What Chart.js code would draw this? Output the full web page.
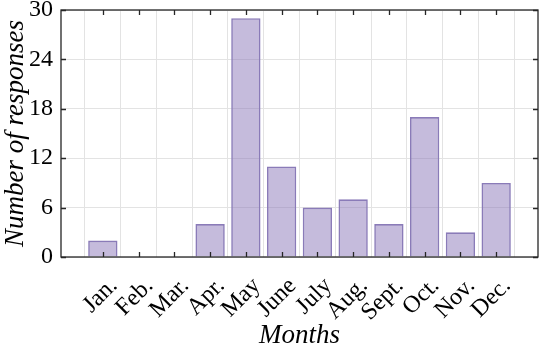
<!DOCTYPE html>
<html><head><meta charset="utf-8">
<script src="https://cdn.jsdelivr.net/npm/chart.js@4/dist/chart.umd.min.js"></script>
<style>html,body{margin:0;padding:0;background:#fff}#wrap{width:540px;height:347px}</style>
</head><body><div id="wrap"><canvas id="c" width="540" height="347"></canvas></div>
<script>
const months = ["Jan.","Feb.","Mar.","Apr.","May","June","July","Aug.","Sept.","Oct.","Nov.","Dec."];
const responses = [2,0,0,4,29,11,6,7,4,17,3,9];
const yTicks = [0,6,12,18,24,30];

const FONT = '"Liberation Serif", "Times New Roman", Times, serif';
const AXIS = '#262626';

const boxPlugin = {
  id:'box',
  afterDraw(chart){
    const {ctx, chartArea:a, scales:{x,y}} = chart;
    ctx.save();
    ctx.strokeStyle = AXIS; ctx.lineWidth = 1.3;
    ctx.strokeRect(a.left, a.top, a.right-a.left, a.bottom-a.top);
    const L = 5;
    ctx.beginPath();
    months.forEach((m,i)=>{
      const px = Math.round(x.getPixelForValue(i))+0.5;
      ctx.moveTo(px,a.bottom); ctx.lineTo(px,a.bottom-L);
      ctx.moveTo(px,a.top); ctx.lineTo(px,a.top+L);
    });
    yTicks.forEach(v=>{
      const py = Math.round(y.getPixelForValue(v))+0.5;
      ctx.moveTo(a.left,py); ctx.lineTo(a.left+L,py);
      ctx.moveTo(a.right,py); ctx.lineTo(a.right-L,py);
    });
    ctx.stroke();
    ctx.restore();
  }
};

function draw(){
new Chart(document.getElementById('c'), {
  type:'bar',
  data:{
    datasets:[{
      data: responses.map((v,i)=>({x:i,y:v})),
      backgroundColor:'rgba(140,120,185,0.5)',
      borderColor:'#8a7bb8',
      borderWidth:1.6,
      categoryPercentage:1,
      barPercentage:0.82
    }]
  },
  options:{
    responsive:false, animation:false, devicePixelRatio:1,
    layout:{padding:{top:10,right:2,left:0,bottom:0}},
    plugins:{legend:{display:false},tooltip:{enabled:false}},
    scales:{
      x:{
        type:'linear', min:-1.17, max:12.17, offset:false,
        afterBuildTicks(s){ s.ticks = months.map((m,i)=>({value:i})); },
        afterFit(s){ s.height = 90; s.paddingLeft = 0; s.paddingRight = 0; },
        grid:{color:'#e3e3e3', drawTicks:false, lineWidth:1},
        border:{display:false},
        ticks:{
          autoSkip:false, minRotation:45, maxRotation:45, padding:15, labelOffset:11,
          color:'#000', font:{family:FONT, size:24},
          callback:(v)=>months[v]
        },
        title:{display:true, text:'Months', color:'#000',
          font:{family:FONT, size:27, style:'italic', lineHeight:0.8}, padding:{top:0,bottom:0}}
      },
      y:{
        min:0, max:30,
        afterBuildTicks(s){ s.ticks = yTicks.map(v=>({value:v})); },
        afterFit(s){ s.width = 61; s.paddingTop = 0; s.paddingBottom = 0; },
        grid:{color:'#e3e3e3', drawTicks:false, lineWidth:1},
        border:{display:false},
        ticks:{padding:8, color:'#000', font:{family:FONT, size:24}},
        title:{display:true, text:'Number of responses', color:'#000',
          font:{family:FONT, size:27, style:'italic'}, padding:{top:0,bottom:0}}
      }
    }
  },
  plugins:[boxPlugin]
});
}
Promise.all([
  document.fonts.load('24px "Liberation Serif"'),
  document.fonts.load('italic 26px "Liberation Serif"')
]).then(draw, draw);
</script></body></html>
